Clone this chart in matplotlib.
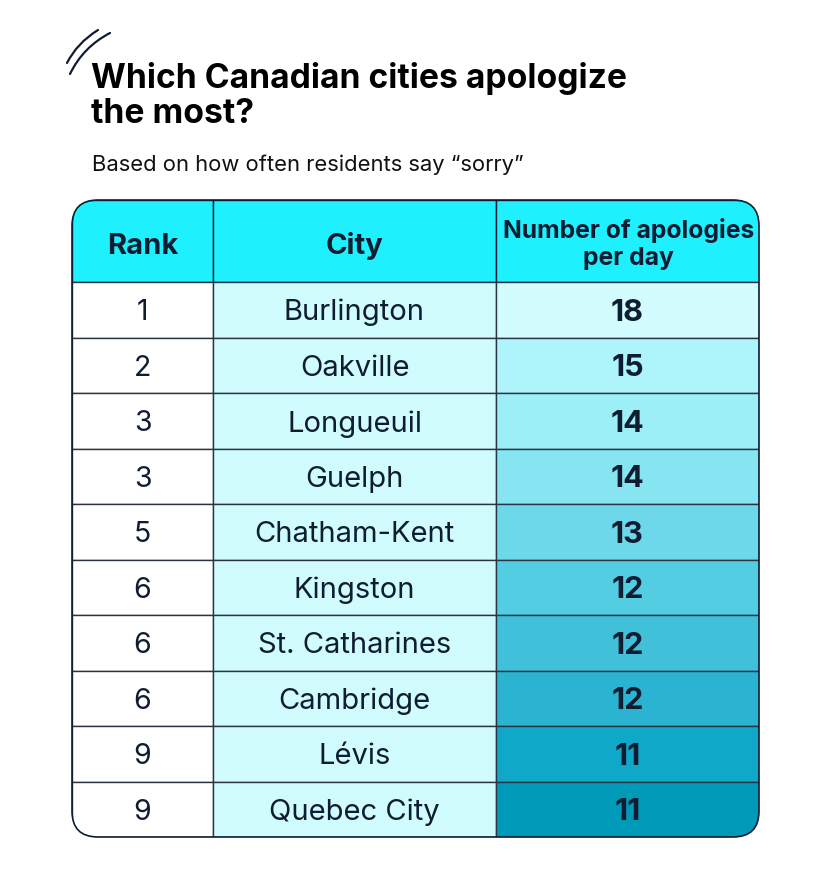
import matplotlib.pyplot as plt
from matplotlib.patches import FancyBboxPatch, Rectangle, PathPatch
from matplotlib.path import Path

title_lines = ['Which Canadian cities apologize', 'the most?']
subtitle = 'Based on how often residents say \u201csorry\u201d'
ranks = ['1', '2', '3', '3', '5', '6', '6', '6', '9', '9']
cities = ['Burlington', 'Oakville', 'Longueuil', 'Guelph', 'Chatham-Kent',
          'Kingston', 'St. Catharines', 'Cambridge', 'Lévis', 'Quebec City']
apologies = [18, 15, 14, 14, 13, 12, 12, 12, 11, 11]
headers = ['Rank', 'City', 'Number of apologies\nper day']
value_colors = ['#d2fcfd', '#aef5fb', '#9ceef7', '#87e4f1', '#6dd8e9',
                '#53cde2', '#40c1d9', '#2bb4d1', '#10a8c8', '#009ab9']

ink = '#0f1d33'
plt.rcParams['font.family'] = ['Inter', 'DejaVu Sans']

W, H = 840, 882
fig = plt.figure(figsize=(W / 100, H / 100), dpi=100)
ax = fig.add_axes([0, 0, 1, 1])
ax.set_xlim(0, W)
ax.set_ylim(H, 0)
ax.axis('off')

# decoration strokes
for (x0, y0), (xc, yc), (x1, y1) in [((67, 63), (77, 43), (98, 30)),
                                     ((70, 74), (83, 47), (110, 33))]:
    p = Path([(x0, y0), (xc, yc), (x1, y1)], [Path.MOVETO, Path.CURVE3, Path.CURVE3])
    ax.add_patch(PathPatch(p, fill=False, lw=1.6, ec=ink, capstyle='round'))

ax.text(91, 88, title_lines[0], fontsize=24.2, fontweight='bold', color='#000000',
        va='baseline')
ax.text(91, 123, title_lines[1], fontsize=24.2, fontweight='bold', color='#000000',
        va='baseline')
ax.text(92, 171, subtitle, fontsize=15.8, color='#111111', va='baseline')

# table geometry
left, right = 72, 759
top, head_bot, bottom = 200, 282, 837
col_x = [left, 213, 496, right]
row_h = (bottom - head_bot) / len(cities)

outline = FancyBboxPatch((left, top), right - left, bottom - top,
                         boxstyle='round,pad=0,rounding_size=26',
                         fc='none', ec='none')
ax.add_patch(outline)

cells = []
for j in range(3):
    cells.append(Rectangle((col_x[j], top), col_x[j + 1] - col_x[j], head_bot - top,
                           fc='#1ef1fd', ec=ink, lw=1.0))
for i in range(len(cities)):
    y = head_bot + i * row_h
    fills = ['#ffffff', '#d0fcfe', value_colors[i]]
    for j in range(3):
        cells.append(Rectangle((col_x[j], y), col_x[j + 1] - col_x[j], row_h,
                               fc=fills[j], ec='#2a3442', lw=1.0))
for c in cells:
    ax.add_patch(c)
    c.set_clip_path(outline)

ax.add_patch(FancyBboxPatch((left, top), right - left, bottom - top,
                            boxstyle='round,pad=0,rounding_size=26',
                            fc='none', ec=ink, lw=1.2))

# header text
hy = (top + head_bot) / 2 + 5
ax.text((col_x[0] + col_x[1]) / 2, hy, headers[0], fontsize=21,
        fontweight='bold', color=ink, ha='center', va='center')
ax.text((col_x[1] + col_x[2]) / 2, hy, headers[1], fontsize=21,
        fontweight='bold', color=ink, ha='center', va='center')
ax.text((col_x[2] + col_x[3]) / 2 + 1, 244, headers[2], fontsize=17.8,
        fontweight='bold', color=ink, ha='center', va='center', linespacing=1.2)

for i in range(len(cities)):
    yc = head_bot + (i + 0.5) * row_h + 3
    ax.text((col_x[0] + col_x[1]) / 2, yc, ranks[i], fontsize=20.5, color=ink,
            ha='center', va='center')
    ax.text((col_x[1] + col_x[2]) / 2, yc, cities[i], fontsize=21, color=ink,
            ha='center', va='center')
    ax.text((col_x[2] + col_x[3]) / 2, yc, str(apologies[i]), fontsize=22,
            fontweight='bold', color=ink, ha='center', va='center')

fig.savefig('out.png', dpi=100, facecolor='white')
